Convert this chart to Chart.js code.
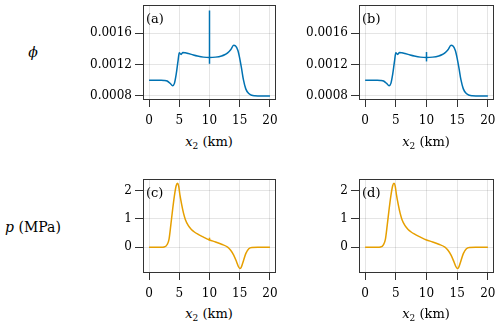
<!DOCTYPE html>
<html lang="en">
<head>
    <meta charset="UTF-8">
    <title>Porosity and pressure profiles</title>
    <script src="https://cdn.jsdelivr.net/npm/chart.js"></script>
    <style>
        body { margin: 0; background: #fff; width: 500px; height: 328px; position: relative; overflow: hidden; font-family: "DejaVu Serif", serif; color: #000; }
        .panel { position: absolute; }
        .txt { position: absolute; white-space: nowrap; line-height: 1; }
        .xt { font-size: 13px; transform: translate(-50%, -50%); }
        .tag { font-size: 13px; transform: translateY(-50%); }
        .row { font-size: 14px; transform: translate(-50%, -50%); }
        sub { font-size: 9px; vertical-align: -3px; }
    </style>
</head>
<body>
    <canvas id="a" class="panel" width="218" height="130" style="left:70px;top:0px"></canvas>
    <canvas id="b" class="panel" width="214" height="130" style="left:286px;top:0px"></canvas>
    <canvas id="c" class="panel" width="218" height="129" style="left:70px;top:174px"></canvas>
    <canvas id="d" class="panel" width="214" height="129" style="left:286px;top:174px"></canvas>

    <div class="txt row" style="left:33px;top:52px"><i>ϕ</i></div>
    <div class="txt row" style="left:33px;top:227px"><i>p</i> (MPa)</div>

    <div class="txt tag" style="left:146px;top:18px">(a)</div>
    <div class="txt tag" style="left:362px;top:18px">(b)</div>
    <div class="txt tag" style="left:146px;top:192px">(c)</div>
    <div class="txt tag" style="left:362px;top:192px">(d)</div>

    <div class="txt xt" style="left:209px;top:143px"><i>x</i><sub>2</sub> (km)</div>
    <div class="txt xt" style="left:426px;top:143px"><i>x</i><sub>2</sub> (km)</div>
    <div class="txt xt" style="left:209px;top:315px"><i>x</i><sub>2</sub> (km)</div>
    <div class="txt xt" style="left:426px;top:315px"><i>x</i><sub>2</sub> (km)</div>

    <script>
        const xTicks = [0, 5, 10, 15, 20];
        const phiTicks = [0.0008, 0.0012, 0.0016];
        const pTicks = [0, 1, 2];

        // porosity, top row
        const xPhi = [0, 1, 2, 2.5, 3, 3.5, 3.9, 4.2, 4.5, 4.8, 5.0, 5.3, 5.6, 6, 6.5, 7, 8, 9, 10, 11,
                      12, 12.5, 13, 13.5, 14, 14.3, 14.7, 15, 15.3, 15.6, 16, 16.5, 17, 17.5, 18, 19, 20];
        const phiA = [0.001, 0.001, 0.001, 0.000998, 0.00099, 0.00096, 0.00093, 0.00096, 0.00108, 0.00125,
                      0.00135, 0.00133, 0.001355, 0.00135, 0.00134, 0.00133, 0.00131, 0.001295, 0.00129, 0.001295,
                      0.00131, 0.001325, 0.00135, 0.00139, 0.001445, 0.00144, 0.00138, 0.00128, 0.00115, 0.00101,
                      0.00089, 0.00083, 0.000808, 0.000802, 0.0008, 0.0008, 0.0008];
        const phiB = [0.001, 0.001, 0.001, 0.000998, 0.00099, 0.00096, 0.00093, 0.00096, 0.00108, 0.00125,
                      0.00135, 0.00133, 0.001355, 0.00135, 0.00134, 0.00133, 0.00131, 0.001295, 0.00129, 0.001295,
                      0.00131, 0.001325, 0.00135, 0.00139, 0.001445, 0.00144, 0.00138, 0.00128, 0.00115, 0.00101,
                      0.00089, 0.00083, 0.000808, 0.000802, 0.0008, 0.0008, 0.0008];
        const spikeA = [0.00121, 0.00189];
        const spikeB = [0.00124, 0.00136];

        // pressure, bottom row
        const xP = [0, 1, 2, 2.5, 3, 3.3, 3.6, 3.9, 4.2, 4.5, 4.7, 4.9, 5.1, 5.4, 5.7, 6, 6.5, 7, 7.5, 8,
                    9, 10, 11, 12, 13, 13.5, 14, 14.5, 14.8, 15, 15.2, 15.5, 16, 16.5, 17, 18, 19, 20];
        const pC = [0, 0, 0, 0.01, 0.1, 0.28, 0.78, 1.33, 1.82, 2.17, 2.25, 2.15, 1.85, 1.5, 1.2, 0.98, 0.76, 0.63, 0.54, 0.47,
                    0.36, 0.26, 0.19, 0.11, 0.01, -0.1, -0.27, -0.52, -0.68, -0.74, -0.72, -0.55, -0.22, -0.05, -0.005, 0, 0, 0];
        const pD = [0, 0, 0, 0.01, 0.1, 0.28, 0.78, 1.33, 1.82, 2.17, 2.25, 2.15, 1.85, 1.5, 1.2, 0.98, 0.76, 0.63, 0.54, 0.47,
                    0.36, 0.26, 0.19, 0.11, 0.01, -0.1, -0.27, -0.52, -0.68, -0.74, -0.72, -0.55, -0.22, -0.05, -0.005, 0, 0, 0];
        const spikeC = [0.24, 0.34];

        const blue = '#0072B2';
        const orange = '#E69F00';
        const tickFont = { family: '"DejaVu Serif", serif', size: 12 };

        const framePlugin = {
            id: 'frame',
            afterDraw(chart) {
                const { ctx, chartArea: a } = chart;
                ctx.save();
                ctx.strokeStyle = '#333';
                ctx.lineWidth = 1;
                ctx.strokeRect(Math.round(a.left) + 0.5, Math.round(a.top) + 0.5,
                    Math.round(a.right - a.left) - 1, Math.round(a.bottom - a.top) - 1);
                ctx.restore();
            }
        };

        function makePanel(id, xs, ys, spike, color, yMin, yMax, yTicks, fmt, rightPad) {
            const datasets = [{
                data: xs.map((x, i) => ({ x: x, y: ys[i] })),
                borderColor: color,
                borderWidth: 1.5,
                pointRadius: 0,
                cubicInterpolationMode: 'monotone'
            }];
            if (spike) {
                datasets.push({
                    data: [{ x: 10, y: spike[0] }, { x: 10, y: spike[1] }],
                    borderColor: color,
                    borderWidth: 1.5,
                    pointRadius: 0
                });
            }
            new Chart(document.getElementById(id), {
                type: 'line',
                data: { datasets: datasets },
                plugins: [framePlugin],
                options: {
                    responsive: false,
                    animation: false,
                    events: [],
                    layout: { padding: { top: 5, right: rightPad, bottom: 0, left: 0 } },
                    plugins: { legend: { display: false }, tooltip: { enabled: false } },
                    scales: {
                        x: {
                            type: 'linear',
                            min: -1,
                            max: 21,
                            afterBuildTicks: s => { s.ticks = xTicks.map(v => ({ value: v })); },
                            afterFit: s => { s.height = 30; s.paddingLeft = 0; s.paddingRight = 0; },
                            grid: { color: 'rgba(0,0,0,0.1)', tickColor: '#333', tickLength: 7 },
                            border: { display: false },
                            ticks: { font: tickFont, color: '#000', padding: 7, maxRotation: 0, autoSkip: false }
                        },
                        y: {
                            min: yMin,
                            max: yMax,
                            afterBuildTicks: s => { s.ticks = yTicks.map(v => ({ value: v })); },
                            afterFit: s => { s.width = 73; s.paddingTop = 0; s.paddingBottom = 0; },
                            grid: { color: 'rgba(0,0,0,0.1)', tickColor: '#333', tickLength: 8 },
                            border: { display: false },
                            ticks: { font: tickFont, color: '#000', padding: 3, callback: fmt }
                        }
                    }
                }
            });
        }

        const fmtPhi = v => v.toFixed(4);
        const fmtP = v => String(v);

        makePanel('a', xPhi, phiA, spikeA, blue, 0.000748, 0.00196, phiTicks, fmtPhi, 12);
        makePanel('b', xPhi, phiB, spikeB, blue, 0.000748, 0.00196, phiTicks, fmtPhi, 6);
        makePanel('c', xP, pC, spikeC, orange, -0.9, 2.4, pTicks, fmtP, 12);
        makePanel('d', xP, pD, null, orange, -0.9, 2.4, pTicks, fmtP, 6);
    </script>
</body>
</html>
